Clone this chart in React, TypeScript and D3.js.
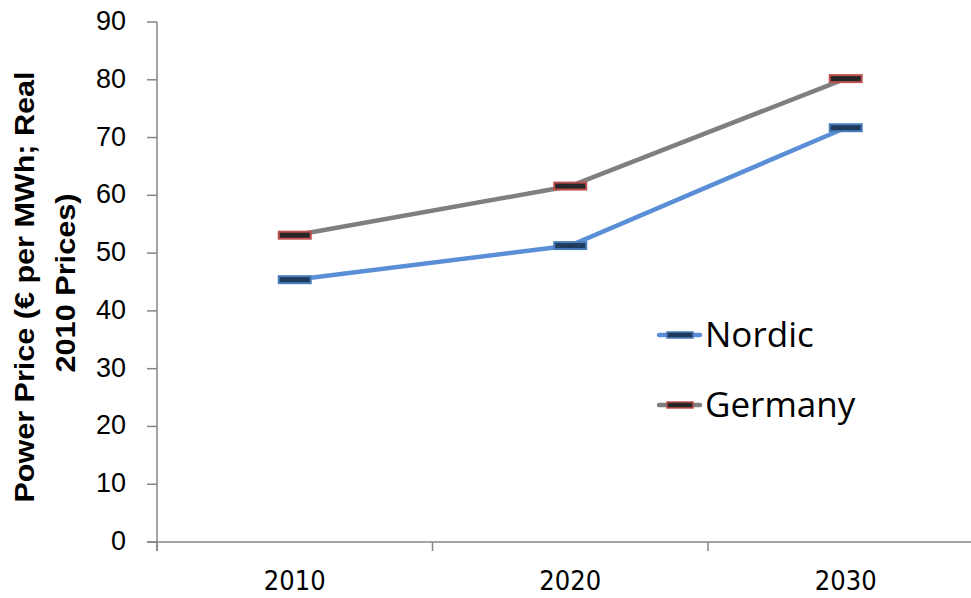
import React from "react";
import * as d3 from "d3";

const categories = ["2010", "2020", "2030"];
const nordic = [45.4, 51.3, 71.7];
const germany = [53.1, 61.6, 80.2];
const yTicks = [0, 10, 20, 30, 40, 50, 60, 70, 80, 90];
const seriesNames = ["Nordic", "Germany"];

const W = 971, H = 598;
const x0 = 157, y0 = 542, yTop = 22;

export default function App() {
  const y = d3.scaleLinear().domain([0, 90]).range([y0, yTop]);
  const x = d3.scaleBand().domain(categories).range([x0, x0 + 275.5 * 3]);
  const cx = (c: string) => (x(c) as number) + x.bandwidth() / 2;
  const line = d3.line<[string, number]>().x((d) => cx(d[0])).y((d) => y(d[1]));
  const series = [
    { name: seriesNames[0], values: nordic, line: "#5A8FD8", fill: "#1F3B5E", stroke: "#4A7EBB" },
    { name: seriesNames[1], values: germany, line: "#7F7F7F", fill: "#262626", stroke: "#C0504D" },
  ];
  return (
    <svg width={W} height={H} style={{ position: "absolute", left: 0, top: 0, background: "#fff" }}>
      {/* y axis */}
      <line x1={x0} x2={x0} y1={yTop} y2={y0 + 9} stroke="#868686" strokeWidth={1.5} />
      {yTicks.map((t) => (
        <g key={t}>
          <line x1={x0 - 10} x2={x0} y1={y(t)} y2={y(t)} stroke="#868686" strokeWidth={1.5} />
          <text x={126} y={y(t) + 8} textAnchor="end" fontFamily="Liberation Sans, Arial, sans-serif" fontSize={27} fill="#000">
            {t}
          </text>
        </g>
      ))}
      {/* x axis */}
      <line x1={x0 - 10} x2={W} y1={y0} y2={y0} stroke="#868686" strokeWidth={1.5} />
      {categories.map((c) => (
        <line key={c} x1={x(c)} x2={x(c)} y1={y0} y2={y0 + 9} stroke="#868686" strokeWidth={1.5} />
      ))}
      {categories.map((c) => (
        <text key={"l" + c} x={cx(c)} y={590} textAnchor="middle" fontFamily="DejaVu Sans Condensed, sans-serif" fontSize={27} fill="#000">
          {c}
        </text>
      ))}
      {/* y title */}
      <text transform="translate(34,287) rotate(-90)" textAnchor="middle" fontFamily="Liberation Sans, Arial, sans-serif" fontWeight="bold" fontSize={28} fill="#000">
        <tspan x={0} y={0} textLength={431} lengthAdjust="spacingAndGlyphs">Power Price (€ per MWh; Real</tspan>
      </text>
      <text transform="translate(75,283) rotate(-90)" textAnchor="middle" fontFamily="Liberation Sans, Arial, sans-serif" fontWeight="bold" fontSize={28} fill="#000">
        <tspan x={0} y={0} textLength={179} lengthAdjust="spacingAndGlyphs">2010 Prices)</tspan>
      </text>
      {/* series */}
      {series.map((s) => (
        <g key={s.name}>
          <path d={line(categories.map((c, i) => [c, s.values[i]]) as any) || ""} fill="none" stroke={s.line} strokeWidth={4.5} />
          {categories.map((c, i) => (
            <rect key={c} x={cx(c) - 16} y={y(s.values[i]) - 3.5} width={32} height={7} fill={s.fill} stroke={s.stroke} strokeWidth={2} />
          ))}
        </g>
      ))}
      {/* legend */}
      {series.map((s, i) => {
        const ly = 335 + i * 70;
        return (
          <g key={"lg" + s.name}>
            <line x1={659} x2={700} y1={ly} y2={ly} stroke={s.line} strokeWidth={4.5} strokeLinecap="round" />
            <rect x={667} y={ly - 3} width={26} height={6} fill={s.fill} stroke={s.stroke} strokeWidth={1.5} />
            <text x={705} y={ly + 12} fontFamily="Open Sans, sans-serif" fontSize={35} fill="#000">
              {s.name}
            </text>
          </g>
        );
      })}
    </svg>
  );
}
